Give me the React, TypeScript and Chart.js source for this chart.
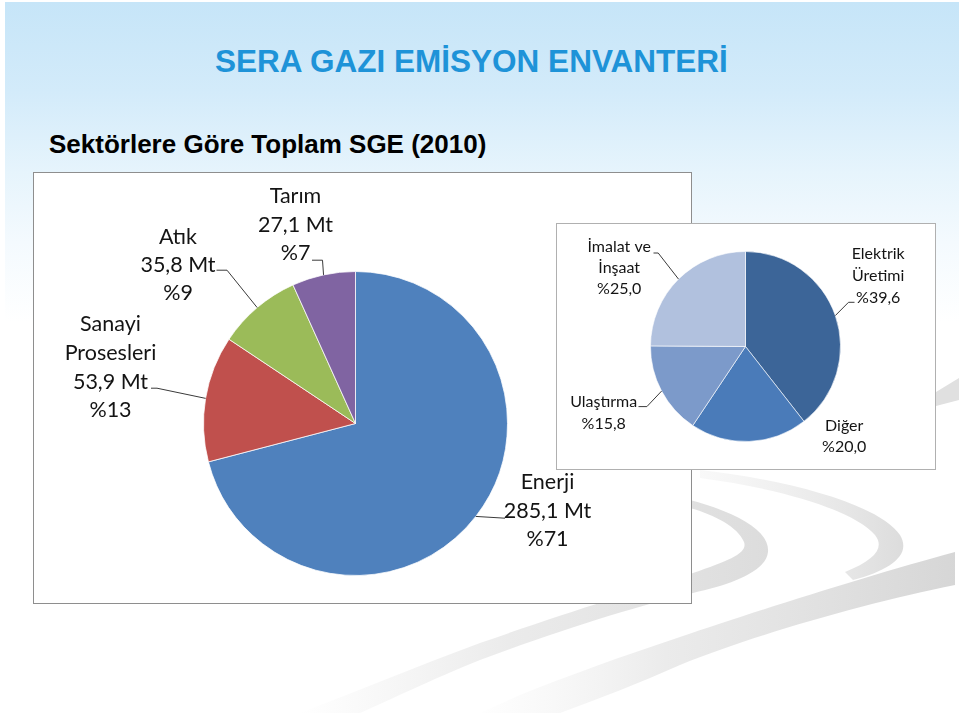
import React, { useEffect, useRef } from "react";
import { Chart, registerables } from "chart.js";

Chart.register(...registerables);

// ---- data ----
const mainCategories = ["Enerji", "Sanayi Prosesleri", "Atık", "Tarım"];
const mainValues = [285.1, 53.9, 35.8, 27.1]; // Mt
const mainPercents = [71, 13, 9, 7];
const mainColors = ["#4f81bd", "#c0504d", "#9bbb59", "#8064a2"];

const insetCategories = ["Elektrik Üretimi", "Diğer", "Ulaştırma", "İmalat ve İnşaat"];
const insetPercents = [39.6, 20.0, 15.8, 25.0];
const insetColors = ["#3c6598", "#4a7bb9", "#7c9aca", "#b1c1de"];

// ---- label layout (offsets from pie centre, px) ----
type LabelLayout = {
  x: number;
  y: number;
  lh: number;
  breakAfter: number; // number of words on first line of the name (0 = no break)
  leader: number[][] | null;
};

const mainLabelLayout: LabelLayout[] = [
  { x: 192, y: 58.7, lh: 28.5, breakAfter: 0, leader: [[149.5, 94.7]] },
  { x: -245, y: -99.3, lh: 28.7, breakAfter: 1, leader: [[-198.5, -35.3], [-204.5, -35.3]] },
  { x: -177.5, y: -186.3, lh: 28, breakAfter: 0, leader: [[-128.5, -153.3], [-139, -153.3]] },
  { x: -60, y: -227.3, lh: 28.5, breakAfter: 0, leader: [[-33, -163.3], [-43.5, -163.3]] },
];

const insetLabelLayout: LabelLayout[] = [
  { x: 132.7, y: -92.5, lh: 21.7, breakAfter: 1, leader: [[103, -44.2], [109, -44.2]] },
  { x: 98.7, y: 79.8, lh: 21, breakAfter: 0, leader: null },
  { x: -141.8, y: 55.8, lh: 21.7, breakAfter: 0, leader: [[-98.6, 60.1], [-107, 60.1]] },
  { x: -126.3, y: -99.2, lh: 21, breakAfter: 2, leader: [[-87.3, -93.5], [-92, -93.5]] },
];

const fmt = (v: number, digits: number) => v.toFixed(digits).replace(".", ",");

function splitName(name: string, breakAfter: number): string[] {
  if (!breakAfter) return [name];
  const w = name.split(" ");
  return [w.slice(0, breakAfter).join(" "), w.slice(breakAfter).join(" ")];
}

function makeLabelPlugin(id: string, layout: LabelLayout[], lines: string[][], font: string) {
  return {
    id,
    afterDatasetsDraw(chart: any) {
      const ctx = chart.ctx as CanvasRenderingContext2D;
      const meta = chart.getDatasetMeta(0);
      ctx.save();
      ctx.font = font;
      ctx.fillStyle = "#141414";
      ctx.strokeStyle = "#3a3a3a";
      ctx.lineWidth = 1;
      ctx.textAlign = "center";
      ctx.textBaseline = "middle";
      meta.data.forEach((arc: any, i: number) => {
        const p = arc.getProps(["x", "y", "startAngle", "endAngle", "outerRadius"], true);
        const mid = (p.startAngle + p.endAngle) / 2;
        const ax = p.x + Math.cos(mid) * p.outerRadius;
        const ay = p.y + Math.sin(mid) * p.outerRadius;
        const L = layout[i];
        if (L.leader) {
          ctx.beginPath();
          ctx.moveTo(ax, ay);
          L.leader.forEach(([dx, dy]) => ctx.lineTo(p.x + dx, p.y + dy));
          ctx.stroke();
        }
        lines[i].forEach((t, k) => ctx.fillText(t, p.x + L.x, p.y + L.y + k * L.lh));
      });
      ctx.restore();
    },
  };
}

const mainLines = mainCategories.map((c, i) => [
  ...splitName(c, mainLabelLayout[i].breakAfter),
  fmt(mainValues[i], 1) + " Mt",
  "%" + mainPercents[i],
]);

const insetLines = insetCategories.map((c, i) => [
  ...splitName(c, insetLabelLayout[i].breakAfter),
  "%" + fmt(insetPercents[i], 1),
]);

export default function App() {
  const mainRef = useRef<HTMLCanvasElement>(null);
  const insetRef = useRef<HTMLCanvasElement>(null);

  useEffect(() => {
    const c1 = new Chart(mainRef.current!, {
      type: "pie",
      data: {
        labels: mainCategories,
        datasets: [
          {
            data: mainValues,
            backgroundColor: mainColors,
            borderColor: "rgba(255,255,255,0.75)",
            borderWidth: 1,
            radius: 152,
          } as any,
        ],
      },
      options: {
        responsive: false,
        animation: false,
        layout: { padding: { left: 0, right: 14, top: 71, bottom: 0 } },
        plugins: { legend: { display: false }, tooltip: { enabled: false } },
      },
      plugins: [makeLabelPlugin("mainLabels", mainLabelLayout, mainLines, "21.5px Lato")],
    });
    const c2 = new Chart(insetRef.current!, {
      type: "pie",
      data: {
        labels: insetCategories,
        datasets: [
          {
            data: insetPercents,
            backgroundColor: insetColors,
            borderColor: "rgba(255,255,255,0.6)",
            borderWidth: 1,
            radius: 95,
          } as any,
        ],
      },
      options: {
        responsive: false,
        animation: false,
        layout: { padding: { left: 0, right: 1, top: 0, bottom: 0 } },
        plugins: { legend: { display: false }, tooltip: { enabled: false } },
      },
      plugins: [makeLabelPlugin("insetLabels", insetLabelLayout, insetLines, "16px Lato")],
    });
    return () => {
      c1.destroy();
      c2.destroy();
    };
  }, []);

  return (
    <div
      style={{
        position: "absolute",
        left: 0,
        top: 0,
        width: 959,
        height: 713,
        overflow: "hidden",
        background: "#ffffff",
      }}
    >
      <div
        style={{
          position: "absolute",
          left: 5,
          top: 2,
          width: 954,
          height: 330,
          background:
            "linear-gradient(to bottom, #c6e5f8 0px, #d3ebfa 90px, #e6f4fc 170px, #f4fafe 240px, #ffffff 320px)",
        }}
      />
      <svg
        width={959}
        height={713}
        style={{ position: "absolute", left: 0, top: 0 }}
      >
        <defs>
          <linearGradient id="gA" x1="300" y1="0" x2="770" y2="0" gradientUnits="userSpaceOnUse">
            <stop offset="0" stopColor="#e6e6e6" stopOpacity="0" />
            <stop offset="0.45" stopColor="#e4e4e4" stopOpacity="0.75" />
            <stop offset="1" stopColor="#dcdcdc" stopOpacity="1" />
          </linearGradient>
          <linearGradient id="gB" x1="700" y1="0" x2="905" y2="0" gradientUnits="userSpaceOnUse">
            <stop offset="0" stopColor="#eaeaea" stopOpacity="0.3" />
            <stop offset="1" stopColor="#dcdcdc" stopOpacity="1" />
          </linearGradient>
          <linearGradient id="gC" x1="470" y1="0" x2="959" y2="0" gradientUnits="userSpaceOnUse">
            <stop offset="0" stopColor="#eeeeee" stopOpacity="0" />
            <stop offset="0.4" stopColor="#e6e6e6" stopOpacity="0.8" />
            <stop offset="1" stopColor="#d6d6d6" stopOpacity="1" />
          </linearGradient>
        </defs>
        <path
          d="M 690 500 C 735 512, 770 530, 768 552 C 766 572, 730 585, 693 593 C 640 605, 560 630, 480 660 C 430 680, 390 700, 360 713 L 300 713 C 360 690, 420 665, 480 643 C 560 615, 640 590, 693 573 C 730 560, 748 553, 744 542 C 738 527, 715 515, 690 508 Z"
          fill="url(#gA)"
        />
        <path
          d="M 700 470 C 790 480, 880 505, 900 535 C 912 555, 890 570, 853 580 L 845 572 C 875 560, 885 548, 875 535 C 855 512, 790 490, 700 478 Z"
          fill="url(#gB)"
        />
        <path
          d="M 955 552 C 870 575, 760 610, 680 637 C 620 657, 570 675, 520 695 L 480 713 L 560 713 C 600 698, 640 683, 680 665 C 760 633, 870 602, 955 585 Z"
          fill="url(#gC)"
        />
        <path d="M 936 392 L 959 378 L 959 400 L 936 406 Z" fill="#e0e0e0" />
      </svg>

      <div
        style={{
          position: "absolute",
          left: 215,
          top: 46,
          fontFamily: "'Liberation Sans', Arial, sans-serif",
          fontWeight: "bold",
          fontSize: 31.5,
          lineHeight: "31px",
          color: "#1e93d8",
          whiteSpace: "nowrap",
        }}
      >
        SERA GAZI EMİSYON ENVANTERİ
      </div>
      <div
        style={{
          position: "absolute",
          left: 49,
          top: 131,
          fontFamily: "'Liberation Sans', Arial, sans-serif",
          fontWeight: "bold",
          fontSize: 26,
          lineHeight: "26px",
          color: "#000000",
          whiteSpace: "nowrap",
        }}
      >
        Sektörlere Göre Toplam SGE (2010)
      </div>

      <div
        style={{
          position: "absolute",
          left: 33,
          top: 172,
          width: 657,
          height: 430,
          border: "1px solid #8e8e8e",
          background: "#ffffff",
        }}
      >
        <canvas ref={mainRef} width={657} height={430} style={{ display: "block", width: 657, height: 430 }} />
      </div>

      <div
        style={{
          position: "absolute",
          left: 556,
          top: 223,
          width: 378,
          height: 245,
          border: "1px solid #b0b0b0",
          background: "#ffffff",
        }}
      >
        <canvas ref={insetRef} width={378} height={245} style={{ display: "block", width: 378, height: 245 }} />
      </div>
    </div>
  );
}
